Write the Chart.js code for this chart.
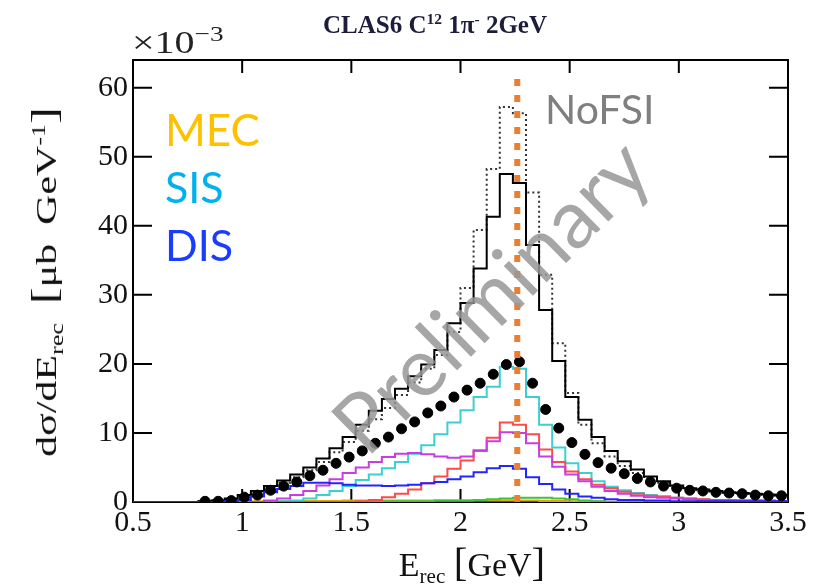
<!DOCTYPE html>
<html>
<head>
<meta charset="utf-8">
<script src="https://cdn.jsdelivr.net/npm/chart.js@4.4.1/dist/chart.umd.min.js"></script>
<style>
  body { margin: 0; background: #fff; }
  #wrap { position: relative; width: 818px; height: 585px; overflow: hidden; }
  #wrap canvas { position: absolute; left: 0; top: 0; }
  .lbl { position: absolute; white-space: nowrap; line-height: 1; transform: translate(0, -50%); }
  .serif { font-family: "Liberation Serif", "DejaVu Serif", serif; }
  .sans { font-family: Lato, "Open Sans", sans-serif; }
  sup, sub { font-size: 0.62em; position: relative; line-height: 0; vertical-align: baseline; }
  sup { top: -0.6em; }
  sub { top: 0.35em; }
  .br { font-size: 1.2em; }
</style>
</head>
<body>
<div id="wrap">
  <canvas id="migrafica" width="818" height="585"></canvas>

  <div class="lbl serif" style="left:435px;top:24px;transform:translate(-50%,-50%);font-size:25px;font-weight:bold;color:#1d1d3b">CLAS6 C<sup>12</sup> 1π<sup>-</sup> 2GeV</div>
  <div class="lbl serif" style="left:132px;top:42px;font-size:32px;color:#222;transform-origin:left center;transform:translate(0,-50%) scaleX(1.25)">×10<sup style="font-size:0.68em;top:-0.55em">−3</sup></div>

  <div class="lbl serif" style="left:44px;top:282px;transform:translate(-50%,-50%) rotate(-90deg) scaleX(1.4);font-size:30px;word-spacing:6px;color:#111">dσ/dE<sub>rec</sub> <span class="br">[</span>μb GeV<sup>-1</sup><span class="br">]</span></div>
  <div class="lbl serif" style="left:472px;top:563px;transform:translate(-50%,-50%);font-size:34px;color:#111">E<sub>rec</sub> <span class="br">[</span>GeV<span class="br">]</span></div>

  <div class="lbl sans" style="left:165px;top:129px;font-size:44px;color:#FFC000">MEC</div>
  <div class="lbl sans" style="left:165px;top:186px;font-size:43px;color:#00B0F0">SIS</div>
  <div class="lbl sans" style="left:165px;top:244px;font-size:43px;color:#1a3cff">DIS</div>
  <div class="lbl sans" style="left:545px;top:108px;font-size:41px;color:#7f7f7f">NoFSI</div>

  <div class="lbl sans" style="left:489px;top:294px;transform:translate(-50%,-50%) rotate(-44.5deg);font-size:82px;color:rgba(150,150,150,0.85)">Preliminary</div>
</div>

<script>
// bin edges of the E_rec histograms [GeV]
const binEdges = [0.5, 0.56, 0.62, 0.68, 0.74, 0.8, 0.86, 0.92, 0.98, 1.04,
  1.1, 1.16, 1.22, 1.28, 1.34, 1.4, 1.46, 1.52, 1.58, 1.64,
  1.7, 1.76, 1.82, 1.88, 1.94, 2.0, 2.06, 2.12, 2.18, 2.24,
  2.3, 2.36, 2.42, 2.48, 2.54, 2.6, 2.66, 2.72, 2.78, 2.84,
  2.9, 2.96, 3.02, 3.08, 3.14, 3.2, 3.26, 3.32, 3.38, 3.44, 3.5];

// dsigma/dE_rec, units of 1e-3 ub/GeV, one value per bin
const noFsi = [0, 0, 0, 0, 0, 0.1, 0.2, 0.4, 0.9, 1.5,
  2.1, 2.8, 3.6, 4.6, 5.8, 7.2, 8.7, 10.3, 12.0, 13.6,
  15.5, 17.3, 19.3, 21.3, 24.6, 31.0, 39.4, 48.2, 57.2, 56.3,
  44.8, 32.9, 23.0, 15.8, 11.2, 8.5, 6.6, 5.2, 4.2, 3.4,
  2.8, 2.3, 1.9, 1.7, 1.5, 1.3, 1.2, 1.1, 1.0, 0.9];
const total = [0, 0, 0, 0, 0, 0.1, 0.2, 0.5, 1.0, 1.6,
  2.3, 3.1, 4.0, 5.0, 6.3, 7.8, 9.4, 11.2, 13.2, 14.9,
  16.4, 18.2, 19.9, 22.0, 25.9, 28.8, 33.8, 41.3, 47.5, 46.2,
  37.2, 27.8, 20.4, 15.2, 11.9, 9.4, 7.4, 5.9, 4.7, 3.7,
  3.0, 2.4, 2.0, 1.8, 1.6, 1.4, 1.3, 1.2, 1.1, 1.0];
const clasData = [null, null, null, null, null, 0.1, 0.1, 0.2, 0.7, 1.0,
  1.7, 2.3, 2.9, 3.8, 4.6, 5.6, 6.5, 7.4, 8.5, 9.4,
  10.6, 11.6, 12.9, 13.9, 15.2, 16.2, 17.2, 18.5, 19.9, 20.3,
  17.2, 13.4, 10.7, 8.6, 6.9, 5.7, 4.9, 4.1, 3.4, 2.9,
  2.3, 2.0, 1.7, 1.6, 1.4, 1.3, 1.2, 1.0, 0.9, 0.9];
const sis = [0, 0, 0, 0, 0, 0, 0, 0, 0, 0,
  0, 0.1, 0.2, 0.5, 1.0, 1.6, 2.3, 3.2, 4.0, 4.9,
  5.8, 7.0, 8.2, 9.8, 11.5, 13.3, 15.2, 16.7, 19.6, 19.3,
  15.2, 11.2, 7.9, 5.6, 4.2, 3.0, 2.2, 1.7, 1.3, 1.0,
  0.8, 0.6, 0.5, 0.4, 0.3, 0.3, 0.2, 0.2, 0.2, 0.1];
const magenta = [0, 0, 0, 0, 0, 0, 0, 0, 0, 0,
  0.2, 0.5, 1.0, 1.6, 2.4, 3.3, 4.2, 5.0, 5.8, 6.5,
  7.0, 7.1, 6.9, 6.6, 6.4, 6.6, 7.5, 8.8, 10.1, 10.0,
  8.5, 6.6, 5.1, 4.0, 3.0, 2.2, 1.6, 1.2, 0.9, 0.7,
  0.6, 0.5, 0.4, 0.3, 0.3, 0.2, 0.2, 0.2, 0.1, 0.1];
const red = [0, 0, 0, 0, 0, 0, 0, 0, 0, 0,
  0, 0, 0, 0, 0, 0, 0, 0.1, 0.3, 0.7,
  1.2, 1.8, 2.7, 3.7, 4.8, 6.0, 7.4, 9.3, 11.5, 11.2,
  9.8, 7.6, 5.8, 4.4, 3.3, 2.5, 2.0, 1.5, 1.2, 0.9,
  0.8, 0.6, 0.5, 0.4, 0.3, 0.3, 0.2, 0.2, 0.2, 0.1];
const dis = [0, 0, 0, 0, 0, 0, 0, 0.1, 0.3, 0.8,
  1.4, 1.9, 2.3, 2.8, 2.8, 2.7, 2.5, 2.4, 2.4, 2.3,
  2.4, 2.5, 2.7, 2.9, 3.3, 3.7, 4.3, 4.9, 5.2, 4.8,
  3.6, 2.6, 1.8, 1.2, 0.8, 0.6, 0.4, 0.3, 0.3, 0.2,
  0.2, 0.1, 0.1, 0.1, 0.1, 0.1, 0.1, 0.1, 0.1, 0.1];
const green = [0, 0, 0, 0, 0, 0, 0, 0, 0, 0,
  0, 0, 0, 0, 0, 0, 0, 0, 0.1, 0.1,
  0.1, 0.1, 0.1, 0.2, 0.2, 0.2, 0.3, 0.4, 0.5, 0.6,
  0.6, 0.6, 0.5, 0.4, 0.2, 0.1, 0, 0, 0, 0,
  0, 0, 0, 0, 0, 0, 0, 0, 0, 0];
const mec = [0, 0, 0, 0, 0, 0, 0, 0, 0.05, 0.1,
  0.1, 0.1, 0.15, 0.15, 0.15, 0.15, 0.2, 0.2, 0.2, 0.2,
  0.2, 0.2, 0.2, 0.2, 0.2, 0.2, 0.2, 0.2, 0.2, 0.2,
  0.2, 0.15, 0.15, 0.1, 0.1, 0.1, 0.05, 0.05, 0, 0,
  0, 0, 0, 0, 0, 0, 0, 0, 0, 0];

const xTicks = [0.5, 1, 1.5, 2, 2.5, 3, 3.5];
const yTicks = [0, 10, 20, 30, 40, 50, 60];
const peakE = 2.26;

// histogram -> points at left bin edges, drawn as steps
const histo = (vals) => {
  const pts = vals.map((v, i) => ({ x: binEdges[i], y: v }));
  pts.push({ x: binEdges[vals.length], y: vals[vals.length - 1] });
  return pts;
};
const hist = (label, vals, color, order, extra) => ({
  label, data: histo(vals), borderColor: color, borderWidth: 2,
  pointRadius: 0, stepped: true, fill: false, order, ...extra,
});

const dots = clasData.map((v, i) => ({ x: (binEdges[i] + binEdges[i + 1]) / 2, y: v }))
  .filter((p) => p.y !== null);

// box + inward ticks, drawn under the histograms like ROOT does
const frame = {
  id: "frame",
  beforeDatasetsDraw(chart) {
    const { ctx, chartArea: a, scales: { x, y } } = chart;
    ctx.save();
    ctx.strokeStyle = "#000";
    ctx.lineWidth = 2;
    ctx.strokeRect(a.left, a.top, a.right - a.left, a.bottom - a.top);
    ctx.beginPath();
    xTicks.forEach((v) => {
      const px = x.getPixelForValue(v);
      ctx.moveTo(px, a.bottom); ctx.lineTo(px, a.bottom - 13);
      ctx.moveTo(px, a.top); ctx.lineTo(px, a.top + 13);
    });
    yTicks.forEach((v) => {
      const py = y.getPixelForValue(v);
      ctx.moveTo(a.left, py); ctx.lineTo(a.left + 19, py);
      ctx.moveTo(a.right, py); ctx.lineTo(a.right - 19, py);
    });
    ctx.stroke();
    ctx.restore();
  },
};

const tickFont = { family: "'Liberation Serif', 'DejaVu Serif', serif", size: 30 };

var config = {
  type: "line",
  data: {
    datasets: [
      { label: "peak", data: [{ x: peakE, y: 0 }, { x: peakE, y: 62 }], borderColor: "#ED7D31",
        borderWidth: 6, borderDash: [7, 9], pointRadius: 0, order: 0 },
      { label: "CLAS6", data: dots, showLine: false, pointRadius: 5, pointBackgroundColor: "#000",
        pointBorderColor: "#000", order: 1 },
      hist("DIS", dis, "#2424ff", 2),
      hist("magenta", magenta, "#c63ee0", 3),
      hist("red", red, "#ff4a4a", 4),
      hist("SIS", sis, "#3ccfcf", 5),
      hist("green", green, "#3cc43c", 6),
      hist("MEC", mec, "#e0a800", 7),
      hist("total", total, "#000", 8),
      hist("NoFSI", noFsi, "#333", 9, { borderDash: [2, 3] }),
    ],
  },
  options: {
    responsive: false,
    animation: false,
    devicePixelRatio: 1,
    layout: { padding: { top: 60, right: 30, left: 0, bottom: 0 } },
    plugins: { legend: { display: false }, tooltip: { enabled: false } },
    scales: {
      x: {
        type: "linear", min: 0.5, max: 3.5,
        afterFit: (s) => { s.height = 83; },
        afterBuildTicks: (s) => { s.ticks = xTicks.map((v) => ({ value: v })); },
        grid: { display: false, drawTicks: false },
        border: { display: false },
        ticks: { font: tickFont, color: "#111", padding: 3, maxRotation: 0, autoSkip: false,
          callback: (v) => String(v) },
      },
      y: {
        min: 0, max: 64,
        afterFit: (s) => { s.width = 133; },
        afterBuildTicks: (s) => { s.ticks = yTicks.map((v) => ({ value: v })); },
        grid: { display: false, drawTicks: false },
        border: { display: false },
        ticks: { font: tickFont, color: "#111", padding: 5, callback: (v) => String(v) },
      },
    },
  },
  plugins: [frame],
};

var ctx = document.getElementById("migrafica").getContext("2d");
window.myChart = new Chart(ctx, config);
</script>
</body>
</html>
